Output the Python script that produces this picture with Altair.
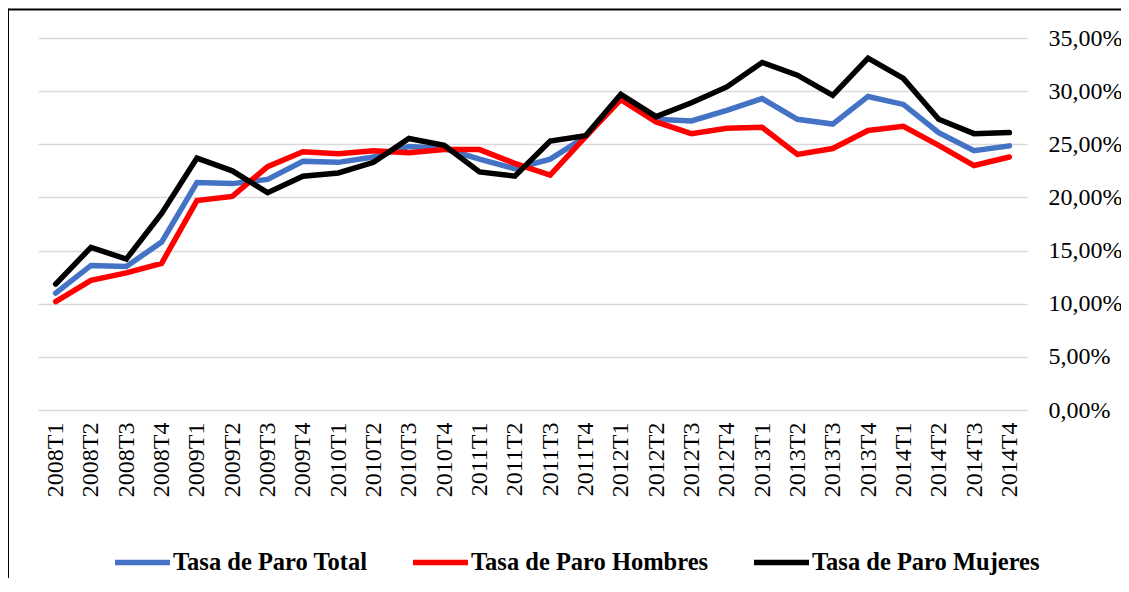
import altair as alt
import pandas as pd

quarters = ["2008T1", "2008T2", "2008T3", "2008T4",
            "2009T1", "2009T2", "2009T3", "2009T4",
            "2010T1", "2010T2", "2010T3", "2010T4",
            "2011T1", "2011T2", "2011T3", "2011T4",
            "2012T1", "2012T2", "2012T3", "2012T4",
            "2013T1", "2013T2", "2013T3", "2013T4",
            "2014T1", "2014T2", "2014T3", "2014T4"]

series = ["Tasa de Paro Total", "Tasa de Paro Hombres", "Tasa de Paro Mujeres"]
colors = ["#4472C4", "#FF0000", "#000000"]

total = [11.0, 13.6, 13.5, 15.8, 21.4, 21.3, 21.7, 23.4, 23.3, 23.8, 24.8, 24.6,
         23.6, 22.7, 23.6, 25.7, 29.4, 27.35, 27.2, 28.2, 29.3, 27.35, 26.9, 29.5,
         28.75, 26.1, 24.4, 24.85]
hombres = [10.2, 12.2, 12.9, 13.8, 19.7, 20.1, 22.9, 24.3, 24.1, 24.4, 24.2, 24.5,
           24.5, 23.2, 22.1, 25.7, 29.2, 27.1, 26.0, 26.5, 26.6, 24.05, 24.6, 26.3,
           26.7, 24.9, 23.0, 23.8]
mujeres = [11.85, 15.3, 14.2, 18.5, 23.7, 22.5, 20.45, 22.0, 22.3, 23.3, 25.55, 24.9,
           22.4, 22.0, 25.3, 25.8, 29.7, 27.6, 28.9, 30.4, 32.7, 31.5, 29.6, 33.1,
           31.2, 27.35, 26.0, 26.1]

y_ticks = [0, 5, 10, 15, 20, 25, 30, 35]

rows = []
for name, vals in zip(series, [total, hombres, mujeres]):
    for q, v in zip(quarters, vals):
        rows.append({"Trimestre": q, "Serie": name, "Tasa": v})
df = pd.DataFrame(rows)

FONT = "Liberation Serif"

lines = alt.Chart(df).mark_line(strokeWidth=5.5, strokeCap="round").encode(
    x=alt.X("Trimestre:N", sort=quarters,
            scale=alt.Scale(domain=quarters),
            axis=alt.Axis(title=None, labelAngle=-90, domain=False, ticks=False,
                          labelPadding=12, labelFont=FONT, labelFontSize=24,
                          labelColor="#000000", grid=False)),
    y=alt.Y("Tasa:Q",
            scale=alt.Scale(domain=[0, 35], nice=False, zero=True),
            axis=alt.Axis(title=None, orient="right", values=y_ticks,
                          labelExpr="replace(format(datum.value, '.2f'), '.', ',') + '%'",
                          domain=False, ticks=False, labelPadding=21,
                          labelFont=FONT, labelFontSize=24, labelColor="#000000",
                          grid=True, gridColor="#d9d9d9", gridWidth=1.5)),
    color=alt.Color("Serie:N", sort=series,
                    scale=alt.Scale(domain=series, range=colors),
                    legend=alt.Legend(title=None, orient="none", legendX=74, legendY=494,
                                      direction="horizontal", symbolType="stroke",
                                      symbolSize=3025, symbolStrokeWidth=5.5,
                                      labelFont=FONT, labelFontSize=24.5,
                                      labelFontWeight="bold", labelColor="#000000",
                                      columnPadding=34, labelOffset=0, labelLimit=0,
                                      padding=0)),
)

one = pd.DataFrame({"k": [0]})
left_border = alt.Chart(one).mark_rule(color="#000000", strokeWidth=2).encode(
    x=alt.value(-30), y=alt.value(-29.5), y2=alt.value(560))
top_border = alt.Chart(one).mark_rule(color="#000000", strokeWidth=2).encode(
    x=alt.value(-31), x2=alt.value(1100), y=alt.value(-28.5))

chart = alt.layer(lines, left_border, top_border).properties(
    width=989, height=372,
    padding={"left": 30, "top": 30, "right": 94, "bottom": 168},
    autosize=alt.AutoSizeParams(type="none"),
).configure_view(stroke=None)

chart.save("out.html", embed_options={"renderer": "svg", "actions": False})
